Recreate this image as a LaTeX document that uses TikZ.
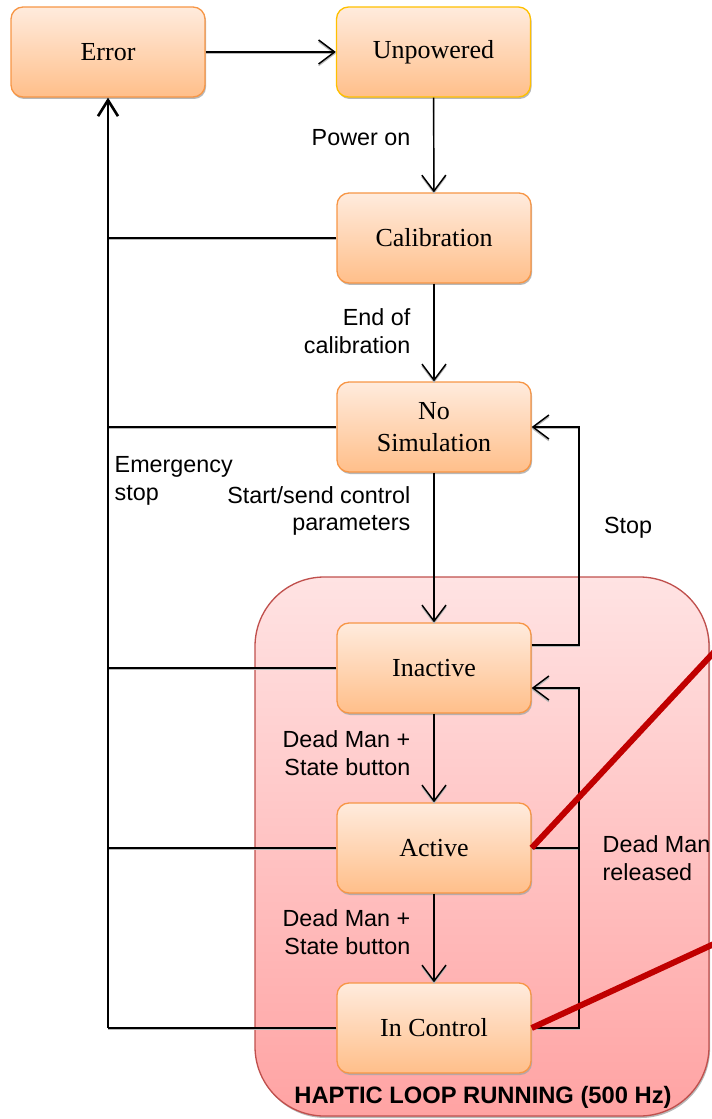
\documentclass[tikz,border=0pt]{standalone}
\usepackage{fontspec}
\setmainfont{Liberation Serif}
\setsansfont{Liberation Sans}
\usetikzlibrary{arrows.meta,shadows}
\definecolor{boxtop}{HTML}{FFEBDD}
\definecolor{boxbot}{HTML}{FFBF8A}
\definecolor{boxborder}{HTML}{F79646}
\definecolor{yellowborder}{HTML}{FFC000}
\definecolor{looptop}{HTML}{FFE3E3}
\definecolor{loopbot}{HTML}{FFA3A3}
\definecolor{loopborder}{HTML}{C0504D}
\definecolor{redline}{HTML}{C00000}
\tikzset{
  state/.style={rectangle, rounded corners=9pt, draw=boxborder, line width=1pt,
    top color=boxtop, bottom color=boxbot, minimum width=145.5pt, minimum height=67.5pt,
    align=center, font=\fontsize{19.5}{23.5}\selectfont,
    drop shadow={shadow xshift=0.8pt, shadow yshift=-1.5pt, fill=gray!70, opacity=0.8}},
  conn/.style={line width=1.1pt, draw=black,
    preaction={draw=gray!55, line width=1pt, transform canvas={yshift=-1.2pt}}},
  arr/.style={-{Straight Barb[length=12pt, width=18pt, line width=1.1pt]}},
  bus/.style={line width=2.2pt, draw=black},
  lbl/.style={font=\sffamily\fontsize{17.5}{20.5}\selectfont},
}
\begin{document}
\begin{tikzpicture}[x=0.75pt, y=-0.75pt]
\useasboundingbox (0,0) rectangle (711,1119);
% haptic loop container
\draw[loopborder, line width=1pt, top color=looptop, bottom color=loopbot, rounded corners=52pt,
  drop shadow={shadow xshift=0.8pt, shadow yshift=-1.5pt, fill=gray!70, opacity=0.8}]
  (255,577) rectangle (709,1116);
\node[font=\sffamily\bfseries\fontsize{17.8}{20}\selectfont] (title) at (483,1097) {HAPTIC LOOP RUNNING (500 Hz)};

% states
\node[state] (err) at (108,52) {Error};
\node[state, draw=yellowborder] (unp) at (433.5,52) {Unpowered};
\node[state] (cal) at (434,238) {Calibration};
\node[state] (nos) at (434,427) {No\\Simulation};
\node[state] (ina) at (434,668) {Inactive};
\node[state] (act) at (434,848) {Active};
\node[state] (ic) at (434,1028) {In Control};

% main flow
\draw[conn, arr] (err) -- (unp);
\draw[conn, arr] (unp) -- (cal);
\draw[conn, arr] (cal) -- (nos);
\draw[conn, arr] (nos) -- (ina);
\draw[conn, arr] (ina) -- (act);
\draw[conn, arr] (act) -- (ic);

% emergency bus
\coordinate (b1) at (108,238);
\coordinate (b2) at (108,427);
\coordinate (b3) at (108,668);
\coordinate (b4) at (108,848);
\coordinate (b5) at (108,1028);
\draw[conn] (cal.west) -- (b1);
\draw[conn] (nos.west) -- (b2);
\draw[conn] (ina.west) -- (b3);
\draw[conn] (act.west) -- (b4);
\draw[conn] (ic.west) -- (b5);
\draw[bus, -{Straight Barb[length=12pt, width=15pt, line width=2pt]}] (b5) -- (err.south);

% stop
\coordinate (s1) at (579,645);
\coordinate (s2) at (579,427);
\draw[conn, arr] (ina.east |- s1) -- (s1) -- (s2) -- (nos.east);

% dead man released
\coordinate (d1) at (579,848);
\coordinate (d2) at (579,1028);
\coordinate (d3) at (579,688);
\draw[conn] (act.east) -- (d1);
\draw[conn, arr] (ic.east) -- (d2) -- (d3) -- (ina.east |- d3);

% red lines
\coordinate (r1) at (716,650);
\coordinate (r2) at (716,943);
\draw[redline, line width=4.5pt] (act.east) -- (r1);
\draw[redline, line width=4.5pt] (ic.east) -- (r2);

% labels
\node[lbl, anchor=east, align=right] (l1) at (415,138) {Power on};
\node[lbl, anchor=east, align=right] (l2) at (415,331) {End of\\calibration};
\node[lbl, anchor=east, align=right] (l3) at (415,511) {Start/send control\\parameters};
\node[lbl, anchor=east, align=right] (l4) at (415,753) {Dead Man +\\State button};
\node[lbl, anchor=east, align=right] (l5) at (415,932) {Dead Man +\\State button};
\node[lbl, anchor=west, align=left] (l6) at (110,481) {Emergency\\stop};
\node[lbl] (l7) at (628,528) {Stop};
\node[lbl, anchor=west, align=left] (l8) at (598,858) {Dead Man\\released};
\end{tikzpicture}
\end{document}
